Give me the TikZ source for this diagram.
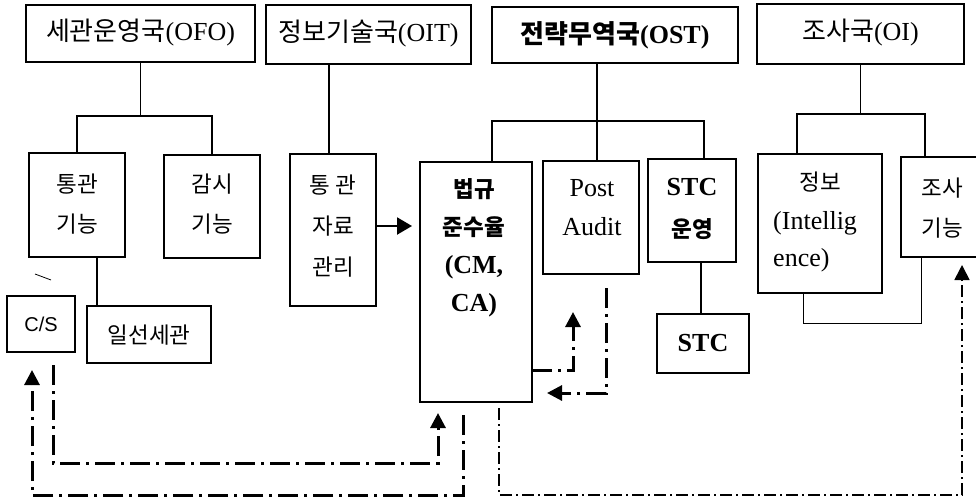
\documentclass[tikz,border=0pt]{standalone}
\usepackage{fontspec}
\setmainfont{Liberation Serif}
\newfontfamily\krfont{Noto Sans CJK KR}
\newfontfamily\csfont{Liberation Sans}
\usetikzlibrary{arrows.meta}
\newcommand\kr[1]{{\krfont #1}}

\begin{document}
\begin{tikzpicture}[x=1pt,y=-1pt,
  box/.style={draw, line width=2.6pt, inner sep=0pt, outer sep=0pt},
  tree/.style={line width=1.9pt},
  thinline/.style={line width=1pt},
  txt/.style={inner sep=0pt, align=center, font=\fontsize{22.5}{40}\selectfont},
  ttl/.style={inner sep=0pt, font=\fontsize{26}{30}\selectfont},
  lat/.style={inner sep=0pt, align=center, font=\fontsize{26}{39}\selectfont},
  dd/.style={line width=3pt, dash pattern=on 20pt off 6pt on 3pt off 6pt},
  ddthin/.style={line width=1.7pt, dash pattern=on 12pt off 4pt on 2pt off 4pt},
  tip/.style={-{Triangle[length=15pt,width=15pt]}},
]
\useasboundingbox (0,0) rectangle (976,499);
\fill[white] (0,0) rectangle (976,499);
\clip (0,0) rectangle (976,499);

% top-level offices
\node[box, minimum width=229pt, minimum height=57pt] (ofo) at (140.5,33.5) {};
\node[box, minimum width=205pt, minimum height=59pt] (oit) at (368.5,34.5) {};
\node[box, minimum width=246pt, minimum height=56pt] (ost) at (615,35) {};
\node[box, minimum width=207pt, minimum height=60pt] (oi)  at (860.5,34) {};

% functional units
\node[box, minimum width=96pt,  minimum height=104pt] (tg)    at (77,205) {};
\node[box, minimum width=96pt,  minimum height=103pt] (gs)    at (212,206.5) {};
\node[box, minimum width=86pt,  minimum height=152pt] (tj)    at (333,230) {};
\node[box, minimum width=68pt,  minimum height=56pt]  (cs)    at (41,324) {};
\node[box, minimum width=124pt, minimum height=57pt]  (is)    at (149,334.5) {};
\node[box, minimum width=112pt, minimum height=240pt] (beob)  at (476,282) {};
\node[box, minimum width=96pt,  minimum height=113pt] (post)  at (591,217.5) {};
\node[box, minimum width=88pt,  minimum height=103pt] (stcop) at (692,210.5) {};
\node[box, minimum width=92pt,  minimum height=59pt]  (stc)   at (703,343.5) {};
\node[box, minimum width=124pt, minimum height=139pt] (jb)    at (820,223.5) {};
\node[box, minimum width=89pt,  minimum height=100pt] (js)    at (945.5,207) {};

% labels
\node[ttl] (ofot) at (140.5,33) {\kr{세관운영국}(OFO)};
\node[ttl] (oitt) at (368.5,34) {\kr{정보기술국}(OIT)};
\node[ttl, font=\fontsize{26}{30}\selectfont\bfseries] (ostt) at (615,35) {\kr{전략무역국}(OST)};
\node[ttl] (oit2) at (860.5,33) {\kr{조사국}(OI)};

\node[txt] (tgt) at (77,204) {\kr{통관}\\\kr{기능}};
\node[txt] (gst) at (212,204) {\kr{감시}\\\kr{기능}};
\node[txt, font=\fontsize{22.5}{41}\selectfont] (tjt) at (333,226) {\kr{통 관}\\\kr{자료}\\\kr{관리}};
\node[inner sep=0pt, font=\csfont\fontsize{20}{24}\selectfont] (cst) at (41,324) {C/S};
\node[txt] (ist) at (149,335) {\kr{일선세관}};
\node[lat, font=\fontsize{26}{38}\selectfont\bfseries] (beobt) at (474,248)
  {\kr{\fontsize{22.5}{38}\selectfont 법규}\\\kr{\fontsize{22.5}{38}\selectfont 준수율}\\(CM,\\CA)};
\node[lat] (postt) at (592,208) {Post\\Audit};
\node[lat, font=\fontsize{26}{42}\selectfont\bfseries] (stcopt) at (692,209) {STC\\\kr{\fontsize{22.5}{42}\selectfont 운영}};
\node[lat, font=\fontsize{26}{30}\selectfont\bfseries] (stct) at (703,343) {STC};
\node[txt] (jbt1) at (820,182) {\kr{정보}};
\node[lat, anchor=west] (jbt2) at (773,223) {(Intellig};
\node[lat, anchor=west] (jbt3) at (773,260) {ence)};
\node[txt] (jst) at (942,208) {\kr{조사}\\\kr{기능}};

% organisation tree
\draw[tree] (ofo.south) -- ++(0,54) coordinate (ofobar);
\draw[tree] (tg.north) |- (ofobar) -| (gs.north);
\draw[tree] ([xshift=-4pt]tj.north) -- ([xshift=-4pt]tj.north |- oit.south);
\draw[tree] ([xshift=-18pt]ost.south) -- ++(0,58) coordinate (ostbar);
\draw[tree] ([xshift=16pt]beob.north) |- (ostbar) -| ([xshift=12pt]stcop.north);
\draw[tree] (ostbar) -- (ostbar |- post.north);
\draw[tree] (oi.south) -- ++(0,50) coordinate (oibar);
\draw[tree] ([xshift=-23pt]jb.north) |- (oibar) -| ([xshift=-20.5pt]js.north);
\draw[tree] ([xshift=20pt]tg.south) -- ([xshift=20pt]tg.south |- is.north);
\draw[tree] ([xshift=9pt]stcop.south) -- ([xshift=9pt]stcop.south |- stc.north);
\draw[thinline] ([xshift=-17pt]jb.south) -- ++(0,30) -| ([xshift=-24.5pt]js.south);
\draw[line width=0.8pt] ([xshift=-6pt,yshift=22pt]cs.north) -- ([xshift=10pt,yshift=16pt]cs.north);

% data flow
\draw[line width=2.2pt, -{Triangle[length=15pt,width=17pt]}, shorten >=8pt]
  ([yshift=4pt]tj.east) -- ([yshift=4pt]tj.east -| beob.west);

\draw[dd, tip] ([xshift=12pt,yshift=-13pt]cs.south)
  |- ([xshift=18pt,yshift=-61pt]beob.south west)
  -- ([xshift=18pt,yshift=-11pt]beob.south west);
\draw[dd, tip] ([xshift=43pt,yshift=-13pt]beob.south west) -- ++(0,80)
  -| ([xshift=25pt,yshift=-18pt]cs.south west);
\draw[dd, tip] ([yshift=32pt]beob.south east)
  -| ([xshift=30pt,yshift=-38pt]post.south west);
\draw[dd, tip] ([xshift=63pt,yshift=-14pt]post.south west)
  |- ([xshift=15pt,yshift=9pt]beob.south east);
\draw[ddthin, tip] ([xshift=79pt,yshift=-6pt]beob.south west) -- ++(0,87)
  -| ([xshift=16.5pt,yshift=-8pt]js.south);
\end{tikzpicture}
\end{document}
